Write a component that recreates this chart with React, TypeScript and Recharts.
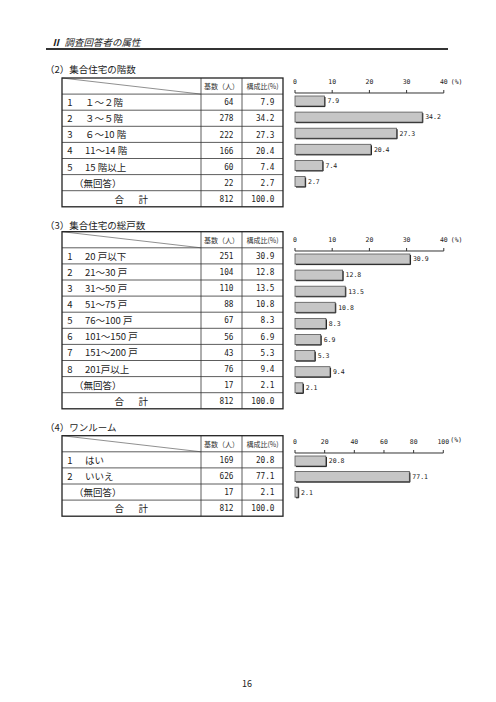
import React from 'react';
import { BarChart, Bar, XAxis, YAxis, LabelList } from 'recharts';

const MONO = '"DejaVu Sans Mono", monospace';
const JP = '"Noto Sans CJK JP", "Noto Sans", sans-serif';

// (2) 集合住宅の階数
const floorCategories = ['１～２階', '３～５階', '６～10 階', '11～14 階', '15 階以上', '（無回答）'];
const floorCounts = [64, 278, 222, 166, 60, 22];
const floorShares = [7.9, 34.2, 27.3, 20.4, 7.4, 2.7];
const floorTotal = 812;

// (3) 集合住宅の総戸数
const unitCategories = [
  '20 戸以下',
  '21～30 戸',
  '31～50 戸',
  '51～75 戸',
  '76～100 戸',
  '101～150 戸',
  '151～200 戸',
  '201戸以上',
  '（無回答）',
];
const unitCounts = [251, 104, 110, 88, 67, 56, 43, 76, 17];
const unitShares = [30.9, 12.8, 13.5, 10.8, 8.3, 6.9, 5.3, 9.4, 2.1];
const unitTotal = 812;

// (4) ワンルーム
const oneRoomCategories = ['はい', 'いいえ', '（無回答）'];
const oneRoomCounts = [169, 626, 17];
const oneRoomShares = [20.8, 77.1, 2.1];
const oneRoomTotal = 812;

const ticks40 = [0, 10, 20, 30, 40];
const ticks100 = [0, 20, 40, 60, 80, 100];

const COL = [62, 201, 242, 283];
const ROW_H = 16.1;

function NumText({ x, y, children }: any) {
  return (
    <text
      transform={`translate(${x} ${y}) scale(0.86 1)`}
      textAnchor="end"
      dominantBaseline="central"
      fontFamily={MONO}
      fontSize={9}
      fill="#222"
    >
      {children}
    </text>
  );
}

function SurveyTable({ top, categories, counts, shares, total }: any) {
  const rows = categories.length + 2;
  const bottom = top + rows * ROW_H;
  const mid = (i: number) => top + i * ROW_H + ROW_H / 2;
  const lines = [];
  for (let i = 1; i < rows; i++) lines.push(top + i * ROW_H);

  return (
    <g>
      {lines.map((y) => (
        <line key={y} x1={COL[0]} x2={COL[3]} y1={y} y2={y} stroke="#333" strokeWidth={0.8} />
      ))}
      <line x1={COL[1]} x2={COL[1]} y1={top} y2={bottom} stroke="#333" strokeWidth={0.8} />
      <line x1={COL[2]} x2={COL[2]} y1={top} y2={bottom} stroke="#333" strokeWidth={0.8} />
      <line x1={COL[0]} x2={COL[1]} y1={top} y2={top + ROW_H} stroke="#444" strokeWidth={0.6} />
      <rect x={COL[0]} y={top} width={COL[3] - COL[0]} height={rows * ROW_H} fill="none" stroke="#222" strokeWidth={1.3} />

      <text x={(COL[1] + COL[2]) / 2} y={mid(0)} textAnchor="middle" dominantBaseline="central" fontSize={7} fill="#333">
        基数（人）
      </text>
      <text x={(COL[2] + COL[3]) / 2} y={mid(0)} textAnchor="middle" dominantBaseline="central" fontSize={7} fill="#333">
        構成比(%)
      </text>

      {categories.map((c: string, i: number) => {
        const last = i === categories.length - 1;
        const y = mid(i + 1);
        return (
          <g key={c}>
            {!last && (
              <text x={70} y={y} textAnchor="middle" dominantBaseline="central" fontSize={9.5} fill="#222">
                {i + 1}
              </text>
            )}
            <text x={last ? 74 : 85} y={y} dominantBaseline="central" fontSize={9.5} fill="#222">
              {c}
            </text>
            <NumText x={COL[2] - 8.5} y={y}>{counts[i]}</NumText>
            <NumText x={COL[3] - 8.5} y={y}>{shares[i].toFixed(1)}</NumText>
          </g>
        );
      })}

      <text
        x={(COL[0] + COL[1]) / 2 + 1}
        y={mid(rows - 1)}
        textAnchor="middle"
        dominantBaseline="central"
        fontSize={9.5}
        letterSpacing={2.5}
        fill="#222"
      >
        合　計
      </text>
      <NumText x={COL[2] - 8.5} y={mid(rows - 1)}>{total}</NumText>
      <NumText x={COL[3] - 8.5} y={mid(rows - 1)}>100.0</NumText>
    </g>
  );
}

function AxisTick({ x, y, payload, max, unitDy = 0 }: any) {
  return (
    <g>
      <text x={x} y={y - 3.5} textAnchor="middle" fontFamily={MONO} fontSize={6.5} fill="#222">
        {payload.value}
      </text>
      {payload.value === max && (
        <text x={x + 7} y={y - 4 + unitDy} textAnchor="start" fontFamily={MONO} fontSize={6.5} fill="#222">
          (%)
        </text>
      )}
    </g>
  );
}

function ShareBar({ x, y, width, height }: any) {
  if (!width || width <= 0) return null;
  return (
    <g>
      <rect x={x} y={y} width={width} height={height} fill="#c6c6c6" stroke="#555" strokeWidth={0.8} />
      <polyline
        points={`${x + 1},${y + height + 0.6} ${x + width + 0.6},${y + height + 0.6} ${x + width + 0.6},${y + 1}`}
        fill="none"
        stroke="#222"
        strokeWidth={1}
      />
    </g>
  );
}

function ShareChart({ categories, shares, plotLeft, plotTop, plotWidth, bandH, max, ticks, unitDy }: any) {
  const data = categories.map((c: string, i: number) => ({ name: c, share: shares[i] }));
  const m = { top: 2, right: 34, bottom: 4, left: 14 };
  const axisH = 20;
  const width = m.left + plotWidth + m.right;
  const height = m.top + axisH + bandH * data.length + m.bottom;
  return (
    <div style={{ position: 'absolute', left: plotLeft - m.left, top: plotTop - axisH - m.top }}>
      <BarChart width={width} height={height} data={data} layout="vertical" margin={m}>
        <XAxis
          type="number"
          orientation="top"
          domain={[0, max]}
          ticks={ticks}
          interval={0}
          height={axisH}
          tickSize={3}
          tickMargin={2}
          stroke="#333"
          tick={<AxisTick max={max} unitDy={unitDy} />}
        />
        <YAxis type="category" dataKey="name" width={0} tick={false} tickLine={false} stroke="#333" />
        <Bar dataKey="share" barSize={10} isAnimationActive={false} shape={<ShareBar />}>
          <LabelList
            dataKey="share"
            position="right"
            offset={3}
            fontSize={6.5}
            fontFamily={MONO}
            fill="#222"
            formatter={(v: any) => Number(v).toFixed(1)}
          />
        </Bar>
      </BarChart>
    </div>
  );
}

export default function App() {
  return (
    <div
      style={{
        position: 'absolute',
        left: 0,
        top: 0,
        width: 496,
        height: 702,
        background: '#fff',
        fontFamily: JP,
        overflow: 'hidden',
      }}
    >
      <svg width={496} height={702} style={{ position: 'absolute', left: 0, top: 0 }} fontFamily={JP}>
        <text x={51} y={41.5} dominantBaseline="central" fontSize={9.5} fontStyle="italic" fill="#222">
          <tspan fontWeight="bold">Ⅱ</tspan>
          <tspan dx={4}>調査回答者の属性</tspan>
        </text>
        <line x1={46} x2={448} y1={49} y2={49} stroke="#333" strokeWidth={2} />

        <text x={45} y={69} dominantBaseline="central" fontSize={9.5} fill="#222">
          （2）集合住宅の階数
        </text>
        <SurveyTable top={78} categories={floorCategories} counts={floorCounts} shares={floorShares} total={floorTotal} />

        <text x={45} y={225} dominantBaseline="central" fontSize={9.5} fill="#222">
          （3）集合住宅の総戸数
        </text>
        <SurveyTable top={231.7} categories={unitCategories} counts={unitCounts} shares={unitShares} total={unitTotal} />

        <text x={45} y={427} dominantBaseline="central" fontSize={9.5} fill="#222">
          （4）ワンルーム
        </text>
        <SurveyTable
          top={435.7}
          categories={oneRoomCategories}
          counts={oneRoomCounts}
          shares={oneRoomShares}
          total={oneRoomTotal}
        />

        <text x={247} y={683} textAnchor="middle" dominantBaseline="central" fontSize={9} fill="#222">
          16
        </text>
      </svg>

      <ShareChart
        categories={floorCategories}
        shares={floorShares}
        plotLeft={294.5}
        plotTop={92.5}
        plotWidth={148.8}
        bandH={16.1}
        max={40}
        ticks={ticks40}
      />
      <ShareChart
        categories={unitCategories}
        shares={unitShares}
        plotLeft={294.5}
        plotTop={250.8}
        plotWidth={148.8}
        bandH={16.1}
        max={40}
        ticks={ticks40}
      />
      <ShareChart
        categories={oneRoomCategories}
        shares={oneRoomShares}
        plotLeft={295}
        plotTop={453.2}
        plotWidth={148.3}
        bandH={15.6}
        max={100}
        ticks={ticks100}
        unitDy={-2}
      />
    </div>
  );
}
